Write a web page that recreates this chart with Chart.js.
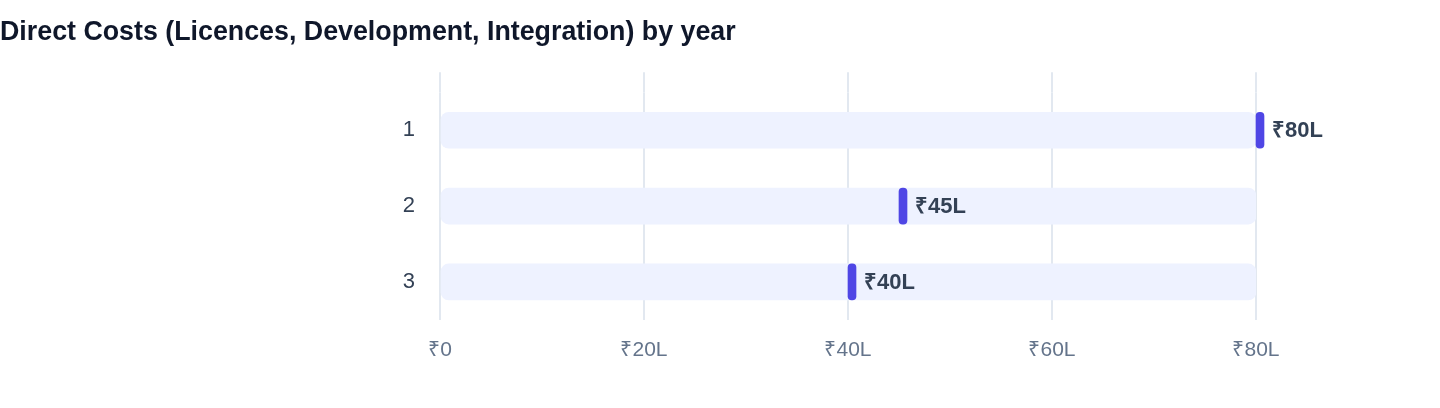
<!DOCTYPE html>
<html>
<head>
<meta charset="utf-8">
<script src="https://cdn.jsdelivr.net/npm/chart.js@4/dist/chart.umd.min.js"></script>
<style>
  html, body { margin: 0; padding: 0; background: #ffffff; }
  #wrap { width: 1440px; height: 408px; position: relative; }
</style>
</head>
<body>
<div id="wrap"><canvas id="c"></canvas></div>
<script>
const chartTitle = 'Direct Costs (Licences, Development, Integration) by year';
const years = ['1', '2', '3'];
const costValues = [80, 45, 40];          // ₹ lakh per year
const trackValues = [80, 80, 80];         // full-scale background track
const xTickValues = [0, 20, 40, 60, 80];

const FONT = "'Liberation Sans', Arial, Helvetica, sans-serif";
const fmt = v => v === 0 ? '₹0' : '₹' + v + 'L';

const valueLabels = {
  id: 'valueLabels',
  afterDatasetsDraw(chart) {
    const meta = chart.getDatasetMeta(0);
    const ctx = chart.ctx;
    ctx.save();
    ctx.font = 'bold 22px ' + FONT;
    ctx.fillStyle = '#334155';
    ctx.textAlign = 'left';
    ctx.textBaseline = 'middle';
    meta.data.forEach((el, i) => {
      ctx.fillText(fmt(costValues[i]), el.x + 8, el.y + 1);
    });
    ctx.restore();
  }
};

new Chart(document.getElementById('c'), {
  type: 'bar',
  data: {
    labels: years,
    datasets: [
      {
        label: 'Cost',
        data: costValues.map(v => [v, v]),
        backgroundColor: '#4F46E5',
        borderRadius: 4,
        borderSkipped: false,
        barThickness: 36,
        minBarLength: 8,
        grouped: false,
        order: 1,
        clip: false,
        xAxisID: 'x'
      },
      {
        label: 'Track',
        data: trackValues,
        backgroundColor: '#EEF2FF',
        borderRadius: 8,
        borderSkipped: false,
        barThickness: 36,
        grouped: false,
        order: 2,
        xAxisID: 'x'
      }
    ]
  },
  options: {
    indexAxis: 'y',
    responsive: true,
    maintainAspectRatio: false,
    animation: false,
    devicePixelRatio: 1,
    layout: { padding: { left: 0, right: 184, top: 0, bottom: 27 } },
    plugins: {
      legend: { display: false },
      tooltip: { enabled: false },
      title: {
        display: true,
        text: chartTitle,
        align: 'start',
        color: '#0F172A',
        font: { family: FONT, size: 26.8, weight: 'bold' },
        padding: { top: 17, bottom: 23.2 }
      }
    },
    scales: {
      x: {
        type: 'linear',
        position: 'bottom',
        min: 0,
        max: 80,
        afterBuildTicks: s => { s.ticks = xTickValues.map(v => ({ value: v })); },
        grid: { color: '#E2E8F0', lineWidth: 2, drawTicks: false },
        border: { display: false },
        ticks: {
          padding: 18,
          color: '#64748B',
          font: { family: FONT, size: 21 },
          callback: v => fmt(v)
        }
      },
      x2: {
        type: 'linear',
        position: 'top',
        min: 0,
        max: 80,
        afterBuildTicks: s => { s.ticks = xTickValues.map(v => ({ value: v })); },
        grid: { color: '#E2E8F0', lineWidth: 2, drawOnChartArea: false, drawTicks: true, tickLength: 20 },
        border: { display: false },
        ticks: { display: false }
      },
      y: {
        type: 'category',
        offset: true,
        afterFit: s => { s.width = 440; },
        grid: { display: false },
        border: { display: false },
        ticks: {
          padding: 17,
          color: '#334155',
          font: { family: FONT, size: 22 }
        }
      }
    }
  },
  plugins: [valueLabels]
});
</script>
</body>
</html>
